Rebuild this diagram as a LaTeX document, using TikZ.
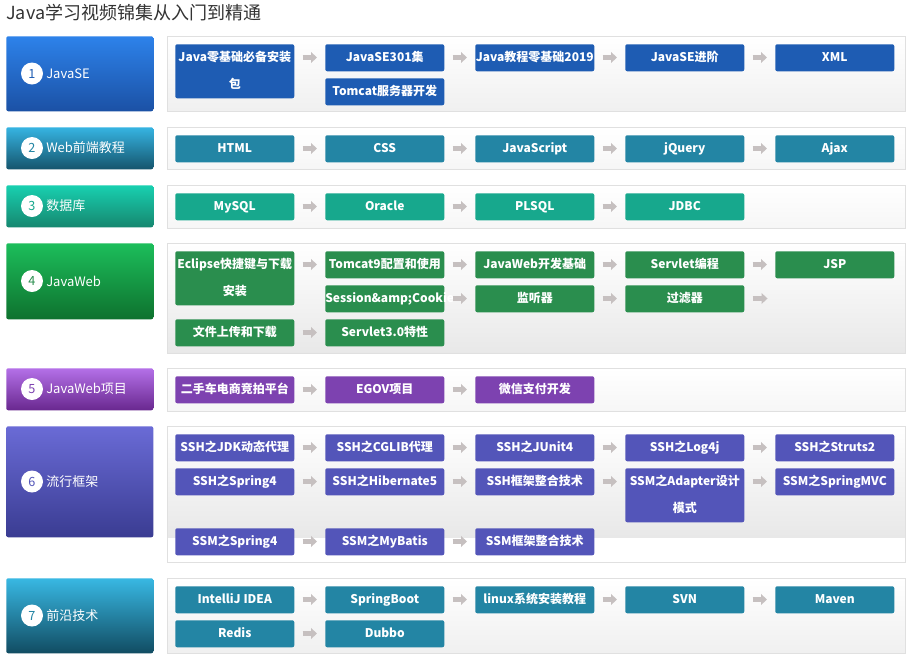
\documentclass[tikz,border=0pt]{standalone}
\usepackage{fontspec}
\setmainfont{Noto Sans CJK SC}
\usetikzlibrary{arrows.meta}
\def\px{*0.75pt}
\definecolor{titlec}{HTML}{333333}
\definecolor{panelc}{HTML}{E0E0E0}
\definecolor{arrowc}{HTML}{C6C0C0}
\definecolor{cAt}{HTML}{2D82EA}\definecolor{cAb}{HTML}{1B51A5}\definecolor{iA}{HTML}{1E5CB3}
\definecolor{cBt}{HTML}{36B4E2}\definecolor{cBb}{HTML}{15556D}\definecolor{iB}{HTML}{2385A4}
\definecolor{cCt}{HTML}{18D0B0}\definecolor{cCb}{HTML}{16876F}\definecolor{iC}{HTML}{17A88D}
\definecolor{cDt}{HTML}{1CBE5B}\definecolor{cDb}{HTML}{0E722E}\definecolor{iD}{HTML}{2A8E4E}
\definecolor{cEt}{HTML}{B470E8}\definecolor{cEb}{HTML}{69288F}\definecolor{iE}{HTML}{7D42B0}
\definecolor{cFt}{HTML}{6A6BD6}\definecolor{cFb}{HTML}{3A3C92}\definecolor{iF}{HTML}{5355B9}
\definecolor{cGt}{HTML}{38B8E3}\definecolor{cGb}{HTML}{114C62}\definecolor{iG}{HTML}{2385A4}
\tikzset{
  item/.style={rectangle, rounded corners=1.5pt, minimum width={119\px}, minimum height={27\px}, inner sep=0pt, text=white, font=\bfseries\fontsize{9}{20.25}\selectfont, align=center, anchor=north west, text height=6.3pt, text depth=1.3pt},
  tallitem/.style={minimum height={54\px}, text height=26.55pt},
  catbox/.style={rectangle, rounded corners=1.5pt, minimum width={147\px}, inner sep=0pt, anchor=north west},
  panel/.style={rectangle, draw=panelc, line width=0.75pt, minimum width={738\px}, inner sep=0pt, anchor=north west},
  numc/.style={circle, fill=white, minimum size={22\px}, inner sep=0pt, font=\fontsize{9.5}{10}\selectfont},
  catlabel/.style={anchor=west, text=white, inner sep=0pt, font=\fontsize{9.75}{11}\selectfont},
  arr/.style={draw=arrowc, line width=3.75pt, -{Triangle[length=4.5pt,width=8pt]}, shorten <=6pt, shorten >=6pt},
}
\newcommand\flowarrow[2]{\draw[arr] ([yshift=-10.125pt]#1.north east) -- ([yshift=-10.125pt]#2.north west);}
\begin{document}
\begin{tikzpicture}[x=0.75pt,y=-0.75pt]
\useasboundingbox[fill=white] (0,0) rectangle (907,658);
\node[anchor=west, inner sep=0pt, text=titlec, font=\fontsize{13.5}{15}\selectfont] (title) at (6,13) {Java学习视频锦集从入门到精通};

% ---------- Row 1
\node[catbox, top color=cAt, bottom color=cAb, minimum height={75\px}] (c1) at (6,36) {};
\node[numc, text=iA] (n1) at (32,73.5) {1};
\node[catlabel] (l1) at (46,73.5) {JavaSE};
\node[panel, top color=white, bottom color=black!6, minimum height={75\px}] (p1) at (167,36) {};
\node[item, tallitem, fill=iA] (a11) at (175,44) {Java零基础必备安装\\包};
\node[item, fill=iA] (a12) at (325,44) {JavaSE301集};
\node[item, fill=iA] (a13) at (475,44) {Java教程零基础2019};
\node[item, fill=iA] (a14) at (625,44) {JavaSE进阶};
\node[item, fill=iA] (a15) at (775,44) {XML};
\node[item, fill=iA] (a16) at (325,78) {Tomcat服务器开发};
\flowarrow{a11}{a12}\flowarrow{a12}{a13}\flowarrow{a13}{a14}\flowarrow{a14}{a15}

% ---------- Row 2
\node[catbox, top color=cBt, bottom color=cBb, minimum height={42\px}] (c2) at (6,127) {};
\node[numc, text=iB] (n2) at (32,148) {2};
\node[catlabel] (l2) at (46,148) {Web前端教程};
\node[panel, top color=white, bottom color=black!3.5, minimum height={42\px}] (p2) at (167,127) {};
\node[item, fill=iB] (b1) at (175,135) {HTML};
\node[item, fill=iB] (b2) at (325,135) {CSS};
\node[item, fill=iB] (b3) at (475,135) {JavaScript};
\node[item, fill=iB] (b4) at (625,135) {jQuery};
\node[item, fill=iB] (b5) at (775,135) {Ajax};
\flowarrow{b1}{b2}\flowarrow{b2}{b3}\flowarrow{b3}{b4}\flowarrow{b4}{b5}

% ---------- Row 3
\node[catbox, top color=cCt, bottom color=cCb, minimum height={42\px}] (c3) at (6,185) {};
\node[numc, text=iC] (n3) at (32,206) {3};
\node[catlabel] (l3) at (46,206) {数据库};
\node[panel, top color=white, bottom color=black!3.5, minimum height={43\px}] (p3) at (167,185) {};
\node[item, fill=iC] (d1) at (175,193) {MySQL};
\node[item, fill=iC] (d2) at (325,193) {Oracle};
\node[item, fill=iC] (d3) at (475,193) {PLSQL};
\node[item, fill=iC] (d4) at (625,193) {JDBC};
\flowarrow{d1}{d2}\flowarrow{d2}{d3}\flowarrow{d3}{d4}

% ---------- Row 4
\node[catbox, top color=cDt, bottom color=cDb, minimum height={76\px}] (c4) at (6,243) {};
\node[numc, text=iD] (n4) at (32,281) {4};
\node[catlabel] (l4) at (46,281) {JavaWeb};
\node[panel, top color=white, bottom color=black!9, minimum height={110\px}] (p4) at (167,243) {};
\node[item, tallitem, fill=iD] (w1) at (175,251) {Eclipse快捷键与下载\\安装};
\node[item, fill=iD] (w2) at (325,251) {Tomcat9配置和使用};
\node[item, fill=iD] (w3) at (475,251) {JavaWeb开发基础};
\node[item, fill=iD] (w4) at (625,251) {Servlet编程};
\node[item, fill=iD] (w5) at (775,251) {JSP};
\node[item, fill=iD] (w6) at (325,285) {};
\node[anchor=west, inner sep=0pt, text=white, font=\bfseries\fontsize{9}{11}\selectfont, text height=6.3pt, text depth=1.3pt] (w6t) at (w6.west) {Session\&amp;Cookie};
\node[item, fill=iD] (w7) at (475,285) {监听器};
\node[item, fill=iD] (w8) at (625,285) {过滤器};
\node[item, fill=iD] (w9) at (175,319) {文件上传和下载};
\node[item, fill=iD] (w10) at (325,319) {Servlet3.0特性};
\flowarrow{w1}{w2}\flowarrow{w2}{w3}\flowarrow{w3}{w4}\flowarrow{w4}{w5}
\flowarrow{w6}{w7}\flowarrow{w7}{w8}
\draw[arr] ([yshift=-10.125pt]w8.north east) -- ++(31,0);
\flowarrow{w9}{w10}

% ---------- Row 5
\node[catbox, top color=cEt, bottom color=cEb, minimum height={42\px}] (c5) at (6,368) {};
\node[numc, text=iE] (n5) at (32,389) {5};
\node[catlabel] (l5) at (46,389) {JavaWeb项目};
\node[panel, top color=white, bottom color=black!3.5, minimum height={43\px}] (p5) at (167,368) {};
\node[item, fill=iE] (e1) at (175,376) {二手车电商竞拍平台};
\node[item, fill=iE] (e2) at (325,376) {EGOV项目};
\node[item, fill=iE] (e3) at (475,376) {微信支付开发};
\flowarrow{e1}{e2}\flowarrow{e2}{e3}

% ---------- Row 6
\node[catbox, top color=cFt, bottom color=cFb, minimum height={111\px}] (c6) at (6,426) {};
\node[numc, text=iF] (n6) at (32,481.5) {6};
\node[catlabel] (l6) at (46,481.5) {流行框架};
\shade[top color=white, bottom color=black!9] (167,426) rectangle (905,537);
\node[panel, minimum height={136\px}] (p6) at (167,426) {};
\node[item, fill=iF] (f1) at (175,434) {SSH之JDK动态代理};
\node[item, fill=iF] (f2) at (325,434) {SSH之CGLIB代理};
\node[item, fill=iF] (f3) at (475,434) {SSH之JUnit4};
\node[item, fill=iF] (f4) at (625,434) {SSH之Log4j};
\node[item, fill=iF] (f5) at (775,434) {SSH之Struts2};
\node[item, fill=iF] (f6) at (175,468) {SSH之Spring4};
\node[item, fill=iF] (f7) at (325,468) {SSH之Hibernate5};
\node[item, fill=iF] (f8) at (475,468) {SSH框架整合技术};
\node[item, tallitem, fill=iF] (f9) at (625,468) {SSM之Adapter设计\\模式};
\node[item, fill=iF] (f10) at (775,468) {SSM之SpringMVC};
\node[item, fill=iF] (f11) at (175,528) {SSM之Spring4};
\node[item, fill=iF] (f12) at (325,528) {SSM之MyBatis};
\node[item, fill=iF] (f13) at (475,528) {SSM框架整合技术};
\flowarrow{f1}{f2}\flowarrow{f2}{f3}\flowarrow{f3}{f4}\flowarrow{f4}{f5}
\flowarrow{f6}{f7}\flowarrow{f7}{f8}\flowarrow{f8}{f9}\flowarrow{f9}{f10}
\flowarrow{f11}{f12}\flowarrow{f12}{f13}

% ---------- Row 7
\node[catbox, top color=cGt, bottom color=cGb, minimum height={75\px}] (c7) at (6,578) {};
\node[numc, text=iG] (n7) at (32,615.5) {7};
\node[catlabel] (l7) at (46,615.5) {前沿技术};
\node[panel, top color=white, bottom color=black!6, minimum height={75\px}] (p7) at (167,578) {};
\node[item, fill=iG] (g1) at (175,586) {IntelliJ IDEA};
\node[item, fill=iG] (g2) at (325,586) {SpringBoot};
\node[item, fill=iG] (g3) at (475,586) {linux系统安装教程};
\node[item, fill=iG] (g4) at (625,586) {SVN};
\node[item, fill=iG] (g5) at (775,586) {Maven};
\node[item, fill=iG] (g6) at (175,620) {Redis};
\node[item, fill=iG] (g7) at (325,620) {Dubbo};
\flowarrow{g1}{g2}\flowarrow{g2}{g3}\flowarrow{g3}{g4}\flowarrow{g4}{g5}
\flowarrow{g6}{g7}
\end{tikzpicture}
\end{document}
